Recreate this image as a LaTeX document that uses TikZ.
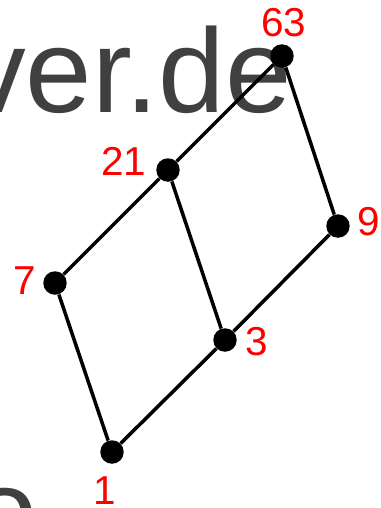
\documentclass[tikz,border=0pt]{standalone}
\usepackage{fontspec}
\setmainfont{Liberation Sans}
\usepackage{xcolor}
\usepackage{tikz}
\definecolor{wmgray}{HTML}{404040}

\begin{document}
\begin{tikzpicture}[
      x=0.02cm, y=-0.02cm,
      dot/.style={circle, fill=black, inner sep=0pt, minimum size=0.47cm},
      lab/.style={text=red, inner sep=0pt, font=\fontsize{23}{23}\selectfont},
      wm/.style={text=wmgray, inner sep=0pt, font=\fontsize{68}{68}\selectfont},
      edge/.style={line width=2pt}]
    \useasboundingbox (0,0) rectangle (380,508);
    \clip (0,0) rectangle (380,508);
    % background text
    \node[wm, anchor=base east] (wmtop) at (292,112) {ver.de};
    \node[wm, anchor=base west] (wmbot) at (-29,552) {o};
    % divisors (column x, row y in px)
    \node[dot] (d63) at (282,56)  {};
    \node[dot] (d21) at (168,170) {};
    \node[dot] (d9)  at (338,226) {};
    \node[dot] (d7)  at (55,283)  {};
    \node[dot] (d3)  at (225,340) {};
    \node[dot] (d1)  at (112,452) {};
    % labels
    \node[lab] (l63) at (284,23)  {63};
    \node[lab] (l21) at (124,161) {21};
    \node[lab] (l9)  at (369,222) {9};
    \node[lab] (l7)  at (25,281)  {7};
    \node[lab] (l3)  at (257,342) {3};
    \node[lab] (l1)  at (105,491) {1};
    % cover relations
    \draw[edge] (d1) -- (d7);
    \draw[edge] (d1) -- (d3);
    \draw[edge] (d7) -- (d21);
    \draw[edge] (d3) -- (d21);
    \draw[edge] (d3) -- (d9);
    \draw[edge] (d21) -- (d63);
    \draw[edge] (d9) -- (d63);
  \end{tikzpicture}
\end{document}
